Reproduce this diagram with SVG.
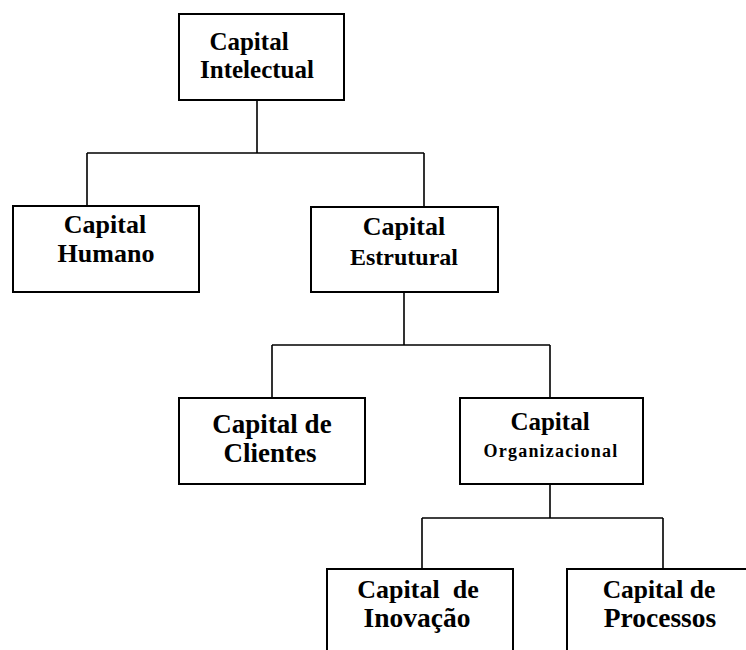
<svg xmlns="http://www.w3.org/2000/svg" width="746" height="650" viewBox="0 0 746 650">
  <style>
    .box { fill: #ffffff; stroke: #000000; stroke-width: 2; }
    .wire { fill: none; stroke: #000000; stroke-width: 1.6; }
    .lbl { font-family: "Liberation Serif", "Times New Roman", serif; font-weight: bold; font-size: 25px; fill: #000000; text-anchor: middle; }
    .small { font-size: 18px; letter-spacing: 1.2px; }
    .pre { white-space: pre; }
  </style>
  <rect x="0" y="0" width="746" height="650" fill="#ffffff"/>

  <g id="connectors">
    <path class="wire" d="M257 100 V153 M87 153 H424 M87 153 V206 M424 153 V207"/>
    <path class="wire" d="M404 292 V345 M272 345 H550 M272 345 V398 M550 345 V398"/>
    <path class="wire" d="M550 484 V518 M422 518 H663 M422 518 V569 M663 518 V569"/>
  </g>

  <g id="capital-intelectual">
    <rect class="box" x="179" y="14" width="165" height="86"/>
    <text class="lbl" x="249" y="50">Capital</text>
    <text class="lbl" x="257" y="78" font-size="24">Intelectual</text>
  </g>

  <g id="capital-humano" font-size="26">
    <rect class="box" x="13" y="206" width="186" height="86"/>
    <text class="lbl" x="105" y="233" style="font-size:26px">Capital</text>
    <text class="lbl" x="106" y="262" style="font-size:26px">Humano</text>
  </g>

  <g id="capital-estrutural">
    <rect class="box" x="311" y="207" width="187" height="85"/>
    <text class="lbl" x="404" y="235" style="font-size:26px">Capital</text>
    <text class="lbl" x="404" y="265" style="font-size:24px">Estrutural</text>
  </g>

  <g id="capital-clientes">
    <rect class="box" x="179" y="398" width="186" height="86"/>
    <text class="lbl" x="272" y="433" style="font-size:27px">Capital de</text>
    <text class="lbl" x="270" y="462" style="font-size:27px">Clientes</text>
  </g>

  <g id="capital-organizacional">
    <rect class="box" x="460" y="398" width="183" height="86"/>
    <text class="lbl" x="550" y="430">Capital</text>
    <text class="lbl small" x="551" y="457">Organizacional</text>
  </g>

  <g id="capital-inovacao">
    <rect class="box" x="327" y="569" width="186" height="90"/>
    <text class="lbl pre" x="418" y="598" style="font-size:26px">Capital  de</text>
    <text class="lbl" x="417" y="627" style="font-size:27.5px">Inovação</text>
  </g>

  <g id="capital-processos">
    <rect class="box" x="567" y="569" width="186" height="90"/>
    <text class="lbl" x="659" y="598" style="font-size:25.5px">Capital de</text>
    <text class="lbl" x="660" y="627" style="font-size:27.5px">Processos</text>
  </g>
</svg>
